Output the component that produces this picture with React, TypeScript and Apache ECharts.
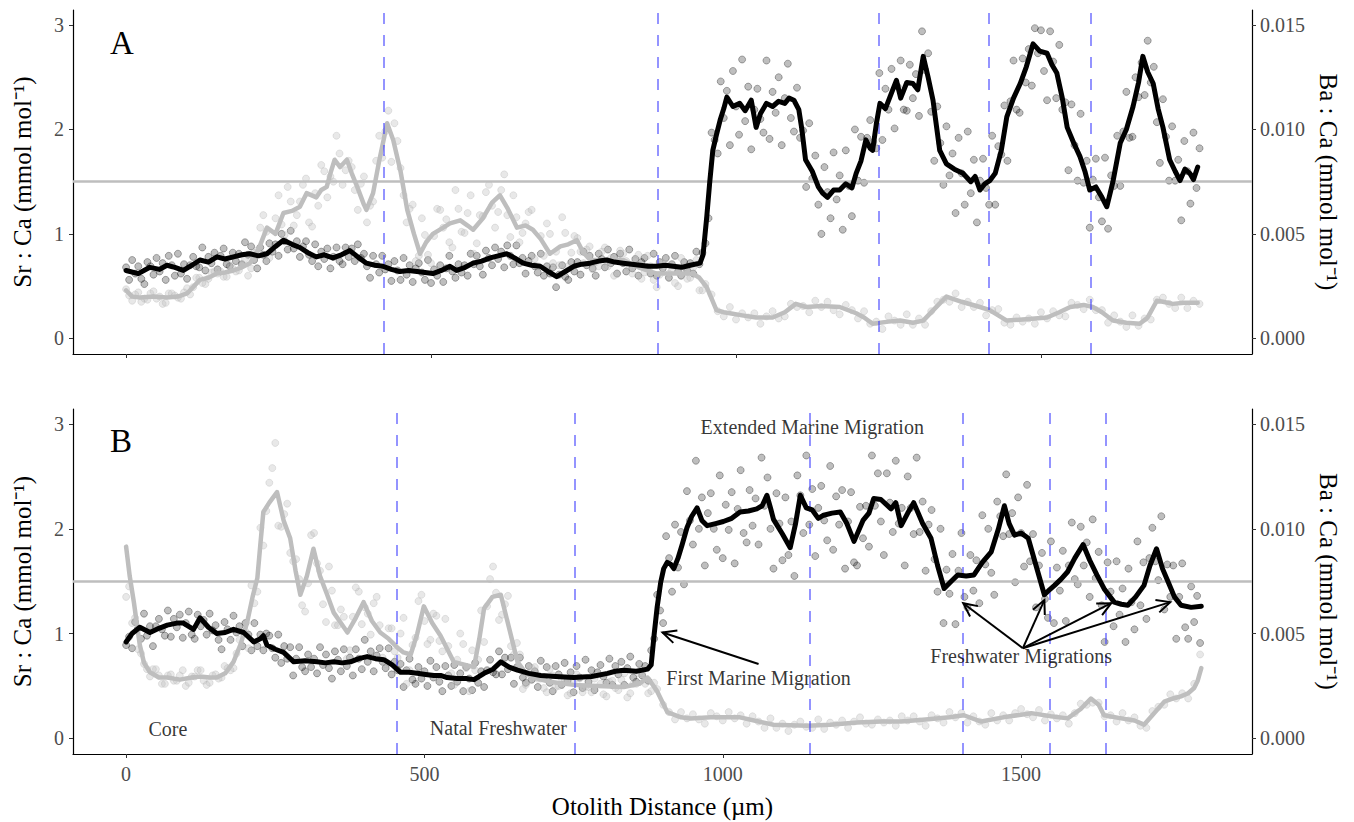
import React, { useEffect, useRef } from "react";
import * as echarts from "echarts";

// ---------- data ----------
const SR_STEP = 5;  // µm between plotted Sr:Ca measurements
const BA_STEP = 10; // µm between plotted Ba:Ca measurements
const BA_MID_OFFSET = 5; // second Ba:Ca run starts 5 µm in (freshwater part only)

// Panel A: smoothed Sr:Ca (mmol/mol)
const A_SR_SMOOTH: number[][] = [[0,0.65],[20,0.62],[39,0.68],[55,0.66],[67,0.70],[80,0.68],[94,0.65],[108,0.70],[121,0.75],[135,0.73],[149,0.78],[162,0.76],[176,0.78],[190,0.80],[203,0.81],[217,0.79],[231,0.81],[245,0.88],[258,0.94],[272,0.90],[285,0.87],[298,0.82],[312,0.78],[325,0.80],[339,0.77],[353,0.80],[367,0.84],[380,0.78],[394,0.72],[408,0.70],[421,0.69],[435,0.66],[449,0.64],[463,0.65],[477,0.64],[490,0.63],[503,0.62],[517,0.65],[531,0.69],[542,0.65],[556,0.68],[569,0.72],[583,0.74],[597,0.77],[610,0.79],[624,0.81],[637,0.77],[651,0.72],[665,0.70],[679,0.69],[692,0.64],[706,0.59],[720,0.64],[734,0.69],[747,0.71],[761,0.72],[775,0.74],[788,0.75],[801,0.73],[815,0.72],[829,0.71],[843,0.70],[856,0.69],[870,0.69],[884,0.70],[897,0.69],[911,0.68],[925,0.70],[941,0.72],[946,0.80],[952,1.16],[957,1.50],[962,1.80],[968,1.95],[974,2.09],[980,2.20],[985,2.31],[995,2.22],[1006,2.25],[1015,2.18],[1025,2.28],[1033,2.02],[1040,2.15],[1050,2.25],[1060,2.22],[1070,2.27],[1080,2.25],[1087,2.30],[1095,2.28],[1103,2.19],[1108,2.00],[1114,1.71],[1125,1.60],[1135,1.45],[1142,1.39],[1150,1.35],[1160,1.42],[1170,1.42],[1180,1.48],[1190,1.44],[1197,1.58],[1205,1.70],[1213,1.90],[1220,1.82],[1224,1.80],[1230,2.05],[1236,2.25],[1245,2.20],[1255,2.35],[1263,2.47],[1270,2.30],[1280,2.45],[1290,2.44],[1298,2.38],[1307,2.70],[1315,2.50],[1323,2.28],[1334,1.80],[1345,1.67],[1358,1.62],[1372,1.58],[1385,1.50],[1392,1.55],[1400,1.42],[1408,1.48],[1416,1.51],[1425,1.58],[1435,1.80],[1444,2.12],[1455,2.30],[1466,2.44],[1476,2.60],[1487,2.82],[1498,2.75],[1510,2.73],[1518,2.62],[1526,2.54],[1535,2.30],[1543,2.02],[1553,1.88],[1564,1.74],[1572,1.60],[1580,1.42],[1590,1.45],[1600,1.35],[1608,1.26],[1618,1.50],[1630,1.87],[1640,2.00],[1651,2.22],[1660,2.45],[1667,2.70],[1675,2.55],[1684,2.44],[1692,2.20],[1700,2.02],[1711,1.71],[1720,1.60],[1728,1.51],[1736,1.62],[1744,1.58],[1750,1.52],[1757,1.64]];

// Panel A: smoothed Ba:Ca, expressed on the Sr:Ca scale (Ba:Ca x 200)
const A_BA_SMOOTH: number[][] = [[0,0.46],[10,0.40],[23,0.39],[45,0.40],[67,0.39],[85,0.40],[100,0.43],[121,0.56],[135,0.58],[149,0.62],[162,0.63],[176,0.65],[190,0.68],[203,0.72],[217,0.85],[231,1.06],[245,1.00],[258,1.20],[272,1.22],[285,1.26],[296,1.39],[312,1.35],[320,1.42],[329,1.45],[335,1.58],[342,1.71],[351,1.64],[362,1.71],[370,1.58],[379,1.45],[390,1.28],[394,1.23],[405,1.39],[415,1.70],[428,2.06],[438,1.90],[450,1.60],[461,1.23],[472,1.00],[482,0.81],[492,0.92],[503,1.00],[520,1.06],[531,1.10],[548,1.13],[560,1.08],[569,1.04],[585,1.15],[600,1.30],[613,1.37],[625,1.25],[641,1.06],[655,1.08],[667,1.04],[680,0.95],[695,0.81],[712,0.88],[725,0.90],[739,0.94],[750,0.82],[761,0.75],[790,0.75],[815,0.75],[840,0.68],[870,0.62],[900,0.62],[929,0.62],[940,0.58],[952,0.49],[960,0.38],[968,0.27],[980,0.25],[990,0.24],[1010,0.22],[1033,0.20],[1060,0.20],[1080,0.25],[1098,0.33],[1115,0.30],[1140,0.31],[1170,0.30],[1197,0.24],[1210,0.20],[1224,0.14],[1250,0.16],[1269,0.17],[1290,0.15],[1307,0.17],[1325,0.28],[1345,0.40],[1370,0.35],[1400,0.30],[1416,0.27],[1444,0.17],[1470,0.18],[1510,0.20],[1530,0.25],[1548,0.30],[1570,0.32],[1585,0.30],[1600,0.25],[1618,0.17],[1640,0.15],[1662,0.14],[1675,0.20],[1690,0.36],[1700,0.35],[1716,0.33],[1735,0.34],[1757,0.34]];

// Panel A: raw Sr:Ca measurements, one every SR_STEP µm from 0
const A_SR_POINTS: number[] = [
0.68,0.56,0.75,0.62,0.69,0.57,0.52,0.73,0.69,0.61,0.77,0.64,0.72,0.56,0.79,0.70,0.60,0.81,0.62,0.71,
0.57,0.70,0.78,0.69,0.68,0.87,0.65,0.78,0.72,0.82,0.66,0.79,0.86,0.71,0.69,0.82,0.74,0.81,0.71,0.92,
0.80,0.88,0.75,0.67,0.87,0.80,0.74,0.91,0.83,0.90,0.79,1.00,0.93,0.85,1.03,0.86,0.93,0.78,0.88,0.93,
0.80,0.74,0.90,0.69,0.83,0.76,0.86,0.67,0.78,0.87,0.74,0.71,0.87,0.78,0.86,0.74,0.90,0.77,0.81,0.69,
0.58,0.79,0.71,0.63,0.79,0.66,0.71,0.55,0.74,0.65,0.56,0.77,0.61,0.70,0.54,0.67,0.72,0.63,0.56,0.75,
0.53,0.66,0.60,0.70,0.54,0.67,0.79,0.64,0.58,0.71,0.63,0.70,0.60,0.81,0.71,0.79,0.69,0.61,0.84,0.77,
0.70,0.87,0.76,0.83,0.68,0.89,0.79,0.71,0.89,0.72,0.77,0.62,0.74,0.79,0.69,0.63,0.81,0.60,0.69,0.62,
0.68,0.49,0.61,0.70,0.59,0.56,0.73,0.64,0.73,0.61,0.83,0.70,0.79,0.67,0.60,0.81,0.76,0.68,0.85,0.72,
0.78,0.62,0.81,0.72,0.64,0.85,0.67,0.76,0.60,0.73,0.77,0.68,0.62,0.81,0.60,0.73,0.67,0.77,0.58,0.71,
0.79,0.64,0.60,0.73,0.65,0.72,0.62,0.83,0.71,0.82,
0.91,1.15,1.97,1.90,1.77,2.46,2.11,2.37,1.85,2.56,2.22,1.95,2.67,2.08,2.41,1.81,2.19,2.39,2.10,1.97,
2.66,1.91,2.36,2.16,2.50,1.85,2.30,2.63,2.11,1.98,2.40,1.92,1.99,1.45,2.06,1.53,1.75,1.28,1.00,1.64,
1.40,1.15,1.78,1.33,1.56,1.04,1.80,1.46,1.17,2.00,1.51,1.93,1.49,1.92,2.09,1.88,1.82,2.54,1.90,2.39,
2.19,2.58,2.01,2.41,2.66,2.19,2.18,2.62,2.30,2.53,2.13,2.94,2.57,2.73,2.17,1.70,2.22,1.87,1.47,2.03,
1.56,1.77,1.20,1.92,1.58,1.28,1.98,1.39,1.71,1.11,1.51,1.72,1.44,1.28,1.94,1.28,1.84,1.76,2.23,1.70,
2.27,2.66,2.19,2.16,2.68,2.45,2.77,2.42,2.97,2.73,2.95,2.56,2.28,2.94,2.65,2.30,2.81,2.19,2.26,1.61,
2.24,1.85,1.51,2.15,1.49,1.70,1.06,1.52,1.72,1.35,1.12,1.73,1.05,1.56,1.46,1.94,1.46,1.98,2.36,1.92,
1.93,2.50,2.31,2.64,2.33,2.85,2.45,2.60,2.07,1.68,2.29,1.93,1.51,2.03,1.51,1.71,1.13,1.89,1.60,1.29,
1.97,1.44,1.82];

// Panel A: raw Ba:Ca measurements (x 200), one every BA_STEP µm from 0
const A_BA_POINTS: number[] = [
0.47,0.36,0.44,0.38,0.43,0.38,0.33,0.43,0.41,0.38,0.48,0.49,0.58,0.52,0.63,0.62,0.59,0.70,0.64,0.70,
0.60,0.82,1.06,1.02,0.87,1.37,0.99,1.31,1.18,1.47,1.11,1.39,1.66,1.35,1.50,1.77,1.61,1.64,1.23,1.55,
1.27,1.70,1.73,2.18,2.06,1.63,1.11,1.28,0.79,0.99,0.72,1.24,1.06,0.92,1.42,1.02,1.20,0.81,1.18,1.40,
1.27,1.21,1.57,0.97,1.16,1.01,1.21,0.76,0.98,1.10,0.72,0.70,1.01,0.82,0.96,0.72,0.88,0.73,0.83,0.69,
0.60,0.84,0.74,0.62,0.80,0.63,0.69,0.49,0.72,0.62,0.53,0.77,0.57,0.68,0.46,
0.52,0.42,0.26,0.21,0.30,0.18,0.24,0.20,0.24,0.14,0.21,0.26,0.19,0.21,0.33,0.30,0.31,0.25,0.36,0.30,
0.35,0.27,0.23,0.32,0.27,0.19,0.26,0.14,0.16,0.09,0.21,0.17,0.13,0.23,0.13,0.19,0.13,0.26,0.35,0.37,
0.35,0.43,0.30,0.35,0.30,0.34,0.22,0.27,0.28,0.15,0.13,0.20,0.16,0.19,0.14,0.25,0.19,0.26,0.22,0.21,
0.34,0.32,0.28,0.37,0.27,0.27,0.15,0.22,0.16,0.11,0.22,0.12,0.19,0.18,0.37,0.39,0.33,0.29,0.39,0.29,
0.36,0.33];

// Panel A: Ba:Ca (x 200), second run at BA_MID_OFFSET + BA_STEP * i (freshwater part)
const A_BA_POINTS_MID: number[] = [
0.41,0.42,0.35,0.37,0.45,0.40,0.34,0.43,0.39,0.44,0.42,0.58,0.53,0.57,0.64,0.64,0.59,0.67,0.65,0.76,
0.67,0.84,1.18,0.77,1.15,1.09,1.45,1.08,1.31,1.53,1.07,1.27,1.60,1.55,1.94,1.47,1.70,1.42,1.48,1.11,
1.31,1.94,1.98,1.69,1.89,1.37,1.24,0.74,1.15,0.80,0.98,1.23,1.14,0.87,1.24,1.01,1.37,0.91,1.17,1.47,
1.06,1.42,1.18,1.37,0.92,1.10,1.23,0.69,0.79,1.00,0.83,1.16,0.69,0.98,0.83,0.85,0.66,0.69,0.87,0.77,
0.62,0.81,0.68,0.74,0.57,0.79,0.56,0.61,0.71,0.65,0.50,0.68,0.58,0.75,0.46];

// Panel B: smoothed Sr:Ca
const B_SR_SMOOTH: number[][] = [[0,0.92],[10,1.00],[23,1.06],[40,1.01],[55,1.05],[69,1.08],[85,1.10],[96,1.10],[113,1.04],[124,1.15],[138,1.06],[152,1.00],[166,1.01],[180,1.04],[197,1.01],[214,0.92],[225,0.95],[230,0.98],[236,0.89],[250,0.85],[264,0.82],[281,0.73],[300,0.74],[320,0.73],[334,0.72],[348,0.73],[362,0.72],[376,0.73],[390,0.76],[404,0.78],[418,0.76],[432,0.75],[446,0.70],[460,0.63],[474,0.63],[488,0.62],[502,0.61],[516,0.60],[527,0.60],[538,0.58],[555,0.57],[570,0.57],[583,0.56],[600,0.62],[615,0.66],[628,0.73],[642,0.68],[656,0.65],[675,0.62],[695,0.60],[720,0.59],[750,0.58],[780,0.59],[807,0.62],[820,0.64],[834,0.65],[855,0.64],[874,0.66],[880,0.70],[885,0.99],[890,1.25],[896,1.49],[901,1.62],[907,1.68],[913,1.66],[918,1.62],[925,1.72],[932,1.85],[940,2.01],[948,2.12],[957,2.20],[965,2.08],[974,2.03],[988,2.05],[1001,2.07],[1015,2.10],[1029,2.16],[1043,2.17],[1057,2.19],[1066,2.22],[1074,2.32],[1080,2.20],[1085,2.09],[1100,1.95],[1113,1.82],[1122,2.05],[1130,2.32],[1140,2.20],[1150,2.18],[1160,2.10],[1169,2.13],[1183,2.15],[1197,2.16],[1208,2.05],[1220,1.88],[1235,2.08],[1245,2.15],[1253,2.29],[1265,2.28],[1282,2.19],[1290,2.25],[1299,2.03],[1310,2.15],[1320,2.25],[1335,2.05],[1349,1.91],[1360,1.65],[1371,1.43],[1383,1.50],[1394,1.56],[1408,1.55],[1421,1.56],[1435,1.68],[1450,1.78],[1462,2.00],[1472,2.22],[1480,2.05],[1489,1.94],[1500,1.96],[1512,1.91],[1525,1.65],[1539,1.37],[1548,1.42],[1556,1.46],[1567,1.52],[1578,1.59],[1590,1.72],[1604,1.85],[1615,1.70],[1627,1.56],[1640,1.42],[1656,1.30],[1668,1.28],[1679,1.27],[1692,1.35],[1706,1.46],[1716,1.65],[1727,1.81],[1737,1.62],[1746,1.50],[1757,1.35],[1768,1.27],[1785,1.25],[1802,1.26]];

// Panel B: smoothed Ba:Ca (x 200)
const B_BA_SMOOTH: number[][] = [[0,1.83],[6,1.55],[13,1.30],[23,0.89],[30,0.72],[40,0.63],[55,0.58],[69,0.58],[90,0.56],[110,0.58],[124,0.59],[140,0.58],[152,0.58],[166,0.62],[180,0.73],[192,0.90],[203,1.11],[212,1.35],[220,1.53],[225,1.85],[230,2.16],[240,2.25],[253,2.35],[264,2.08],[275,1.91],[284,1.60],[292,1.37],[303,1.55],[314,1.81],[325,1.55],[337,1.37],[348,1.20],[360,1.10],[371,1.01],[385,1.15],[398,1.30],[412,1.12],[426,1.01],[440,0.95],[454,0.87],[465,0.82],[477,0.80],[488,1.00],[499,1.26],[513,1.10],[527,0.98],[549,0.73],[583,0.68],[592,0.95],[600,1.24],[614,1.35],[628,1.37],[642,1.05],[656,0.73],[670,0.62],[683,0.58],[710,0.54],[750,0.51],[790,0.50],[834,0.49],[860,0.52],[874,0.58],[890,0.45],[907,0.25],[930,0.20],[946,0.19],[980,0.20],[1029,0.20],[1060,0.16],[1085,0.13],[1142,0.12],[1180,0.13],[1225,0.15],[1265,0.16],[1299,0.16],[1340,0.18],[1380,0.20],[1404,0.22],[1433,0.16],[1470,0.20],[1517,0.24],[1550,0.21],[1578,0.19],[1600,0.28],[1617,0.38],[1630,0.32],[1639,0.22],[1668,0.19],[1690,0.17],[1706,0.13],[1720,0.22],[1740,0.35],[1755,0.38],[1768,0.40],[1780,0.43],[1790,0.48],[1796,0.55],[1802,0.67]];

// Panel B: raw Sr:Ca measurements, one every SR_STEP µm from 0
const B_SR_POINTS: number[] = [
0.89,0.97,0.86,1.11,1.05,0.95,1.19,0.98,1.07,0.88,1.07,1.14,1.04,0.98,1.22,0.97,1.14,1.06,1.18,0.96,
1.10,1.21,0.99,0.95,1.18,1.07,1.13,0.99,1.19,1.03,1.08,0.94,0.85,1.11,1.04,0.94,1.17,1.01,1.07,0.88,
1.10,0.99,0.84,1.10,0.88,0.99,0.84,1.00,0.98,0.86,0.77,0.99,0.72,0.88,0.76,0.87,0.60,0.76,0.87,0.68,
0.64,0.80,0.68,0.76,0.62,0.87,0.70,0.80,0.67,0.57,0.83,0.75,0.64,0.85,0.69,0.77,0.60,0.85,0.76,0.66,
0.94,0.73,0.83,0.64,0.79,0.86,0.73,0.67,0.86,0.61,0.73,0.65,0.71,0.49,0.65,0.76,0.56,0.52,0.68,0.57,
0.64,0.50,0.74,0.58,0.68,0.54,0.45,0.69,0.60,0.50,0.70,0.54,0.62,0.45,0.68,0.57,0.46,0.72,0.53,0.64,
0.49,0.65,0.75,0.63,0.61,0.83,0.61,0.77,0.66,0.77,0.52,0.68,0.77,0.58,0.53,0.69,0.56,0.64,0.49,0.74,
0.58,0.68,0.53,0.45,0.69,0.61,0.51,0.72,0.55,0.63,0.44,0.69,0.58,0.48,0.75,0.54,0.65,0.46,0.63,0.70,
0.59,0.53,0.76,0.51,0.69,0.61,0.73,0.51,0.67,0.78,0.58,0.54,0.71,0.60,0.69,0.55,0.84,0.95,
1.37,1.22,1.10,1.93,1.72,1.40,2.04,1.63,1.97,1.47,2.36,2.08,1.85,2.65,2.00,2.30,1.65,2.15,2.34,2.00,
1.80,2.51,1.72,2.23,1.99,2.35,1.67,2.19,2.56,1.96,1.87,2.37,2.03,2.29,1.85,2.68,2.22,2.49,2.00,1.62,
2.34,2.05,1.70,2.30,1.75,2.07,1.55,2.51,2.32,1.96,2.70,2.04,2.38,1.74,2.20,2.41,2.08,1.89,2.60,1.80,
2.31,2.04,2.37,1.62,2.07,2.35,1.68,1.65,2.21,1.91,2.22,1.83,2.70,2.22,2.53,2.07,1.75,2.53,2.25,1.97,
2.65,2.05,2.20,1.65,2.50,2.20,1.95,2.68,1.97,2.26,1.60,2.04,2.18,1.71,1.40,2.00,1.10,1.61,1.38,1.76,
1.09,1.60,1.96,1.35,1.25,1.75,1.41,1.70,1.29,2.13,1.66,2.00,1.58,1.37,2.26,2.12,1.93,2.52,1.95,2.15,
1.49,2.30,1.96,1.64,2.42,1.69,1.95,1.25,1.65,1.77,1.33,1.15,1.88,1.10,1.63,1.41,1.79,1.12,1.65,2.06,
1.52,1.47,2.02,1.65,1.87,1.35,2.09,1.53,1.78,1.27,0.92,1.68,1.40,1.07,1.69,1.18,1.43,0.92,1.62,1.30,
1.04,1.88,1.27,1.68,1.14,1.72,2.01,1.69,1.51,2.12,1.23,1.66,1.35,1.65,0.95,1.35,1.67,1.06,0.95,1.45,
1.11,1.36,0.91];

// Panel B: raw Ba:Ca measurements (x 200), one every BA_STEP µm from 0
const B_BA_POINTS: number[] = [
1.35,1.10,0.85,0.71,0.59,0.66,0.52,0.60,0.55,0.60,0.50,0.59,0.65,0.55,0.53,0.61,0.58,0.67,0.67,0.94,
1.02,1.46,1.40,1.84,2.44,2.82,2.02,2.24,1.69,1.52,1.21,1.94,1.67,1.28,1.64,1.08,1.23,0.76,1.16,1.40,
1.25,0.99,1.35,0.77,1.05,0.83,1.00,0.52,0.89,1.31,1.12,0.94,1.17,0.83,0.88,0.51,1.00,0.67,0.84,0.75,
0.92,1.52,1.39,1.18,1.36,0.80,0.80,0.51,0.67,0.57,0.48,0.66,0.49,0.57,0.41,0.53,0.57,0.49,0.44,0.61,
0.42,0.54,0.48,0.56,0.39,0.52,0.62,0.52,0.45,0.47,0.32,0.25,0.18,0.25,0.19,0.23,0.18,0.14,0.24,0.21,
0.17,0.25,0.19,0.22,0.14,0.21,0.16,0.10,0.19,0.10,0.14,0.07,0.13,0.16,0.11,0.10,0.18,0.09,0.15,0.13,
0.17,0.10,0.16,0.20,0.14,0.13,0.18,0.15,0.17,0.12,0.21,0.17,0.21,0.16,0.12,0.22,0.19,0.15,0.25,0.20,
0.24,0.15,0.21,0.16,0.13,0.24,0.17,0.22,0.17,0.24,0.28,0.23,0.20,0.27,0.17,0.23,0.19,0.22,0.14,0.24,
0.33,0.32,0.34,0.34,0.21,0.22,0.16,0.24,0.17,0.20,0.12,0.10,0.26,0.30,0.32,0.42,0.38,0.43,0.38,0.52,
0.80];

// Panel B: Ba:Ca (x 200), second run at BA_MID_OFFSET + BA_STEP * i (freshwater part)
const B_BA_POINTS_MID: number[] = [
1.45,1.15,0.81,0.66,0.66,0.60,0.52,0.61,0.55,0.65,0.53,0.59,0.65,0.51,0.60,0.57,0.69,0.65,0.81,1.01,
0.86,1.29,2.01,2.17,2.58,2.03,2.14,1.77,1.71,1.27,1.48,1.96,1.60,1.11,1.41,1.08,1.16,0.84,1.44,1.09,
1.19,1.29,1.08,0.71,1.05,0.77,1.15,0.65,0.96,1.37,0.90,1.19,0.93,1.14,0.62,0.75,0.90,0.45,0.65,1.22,
1.26,1.64,1.13,1.28,0.88,0.91,0.47,0.55,0.68,0.57,0.44,0.60,0.50,0.55,0.43,0.61,0.44,0.49,0.57,0.52,
0.40,0.55,0.46,0.62,0.43,0.52,0.62,0.43,0.53];

// Transition boundaries (µm) and threshold
const A_BOUNDARIES: number[] = [423, 871, 1234, 1414, 1582];
const B_BOUNDARIES: number[] = [453, 752, 1145, 1403, 1548, 1642];
const SR_THRESHOLD = 1.5;
const BA_SCALE = 200; // Sr:Ca axis value / BA_SCALE = Ba:Ca axis value

// Axis ticks
const X_TICKS: number[] = [0, 500, 1000, 1500];
const Y_TICKS: number[] = [0, 1, 2, 3];

// Annotations in panel B: [x, y, text]
const B_NOTES: (number | string)[][] = [
  [1150, 2.97, "Extended Marine Migration"],
  [1060, 0.575, "First Marine Migration"],
  [1500, 0.785, "Freshwater Migrations"],
  [70, 0.09, "Core"],
  [624, 0.1, "Natal Freshwater"],
];
// Arrows in panel B: [xFrom, yFrom, xTo, yTo]
const B_ARROWS: number[][] = [
  [1060, 0.71, 899, 1.01],
  [1503, 0.86, 1403, 1.29],
  [1503, 0.86, 1539, 1.32],
  [1503, 0.86, 1651, 1.29],
  [1503, 0.86, 1750, 1.3],
];

// ---------- styles ----------
const FONT = "'Liberation Serif', 'Times New Roman', serif";
const TICK_GRAY = "#4d4d4d";
const DASH_BLUE = "rgba(60,60,255,0.55)";
const LINE_GRAY = "#bebebe";

const toPoints = (vals: number[], step: number, offset = 0) =>
  vals.map((v, i) => [offset + i * step, v]);

function App() {
  const ref = useRef<HTMLDivElement>(null);

  useEffect(() => {
    if (!ref.current) return;
    const chart = echarts.init(ref.current, undefined, { renderer: "svg" });

    const xAxisBase = (gridIndex: number, min: number, max: number, showLabels: boolean): any => ({
      type: "value",
      gridIndex,
      min,
      max,
      axisLine: { show: true, onZero: false, lineStyle: { color: "#000", width: 1.2 } },
      axisTick: { show: true, length: 4, customValues: X_TICKS, lineStyle: { color: "#333", width: 1 } },
      axisLabel: {
        show: showLabels,
        customValues: X_TICKS,
        color: TICK_GRAY,
        fontSize: 20,
        fontFamily: FONT,
        margin: 10,
        formatter: (v: number) => String(v),
      },
      splitLine: { show: false },
    });

    const yLeft = (gridIndex: number): any => ({
      type: "value",
      gridIndex,
      position: "left",
      min: -0.15,
      max: 3.144,
      axisLine: { show: true, onZero: false, lineStyle: { color: "#000", width: 1.2 } },
      axisTick: { show: true, length: 4, customValues: Y_TICKS, lineStyle: { color: "#333" } },
      axisLabel: {
        customValues: Y_TICKS,
        color: TICK_GRAY,
        fontSize: 20,
        fontFamily: FONT,
        margin: 9,
      },
      splitLine: { show: false },
      name: "Sr : Ca (mmol mol⁻¹)",
      nameLocation: "middle",
      nameRotate: 90,
      nameGap: 38,
      nameTextStyle: { color: "#000", fontSize: 25, fontFamily: FONT },
    });

    const yRight = (gridIndex: number): any => ({
      type: "value",
      gridIndex,
      position: "right",
      min: -0.15,
      max: 3.144,
      axisLine: { show: true, onZero: false, lineStyle: { color: "#000", width: 1.2 } },
      axisTick: { show: true, length: 4, customValues: Y_TICKS, lineStyle: { color: "#333" } },
      axisLabel: {
        customValues: Y_TICKS,
        color: TICK_GRAY,
        fontSize: 20,
        fontFamily: FONT,
        margin: 8,
        formatter: (v: number) => (v / BA_SCALE).toFixed(3),
      },
      splitLine: { show: false },
      name: "Ba : Ca (mmol mol⁻¹)",
      nameLocation: "middle",
      nameRotate: -90,
      nameGap: 58,
      nameTextStyle: { color: "#000", fontSize: 25, fontFamily: FONT },
    });

    const refLines = (xi: number, yi: number, bounds: number[]): any => ({
      type: "line",
      xAxisIndex: xi,
      yAxisIndex: yi,
      data: [],
      silent: true,
      z: 1,
      markLine: {
        silent: true,
        symbol: "none",
        animation: false,
        label: { show: false },
        data: [
          { yAxis: SR_THRESHOLD, lineStyle: { color: LINE_GRAY, width: 2.5, type: "solid" } },
          ...bounds.map((b) => ({
            xAxis: b,
            lineStyle: { color: DASH_BLUE, width: 2, type: [11, 11] },
          })),
        ],
      },
    });

    const srPoints = (xi: number, yi: number, vals: number[]): any => ({
      type: "scatter",
      xAxisIndex: xi,
      yAxisIndex: yi,
      data: toPoints(vals, SR_STEP),
      symbolSize: 7,
      silent: true,
      z: 2,
      itemStyle: { color: "rgba(0,0,0,0.32)", borderColor: "rgba(0,0,0,0.48)", borderWidth: 0.8 },
    });
    const baPoints = (xi: number, yi: number, data: number[][]): any => ({
      type: "scatter",
      xAxisIndex: xi,
      yAxisIndex: yi,
      data,
      symbolSize: 7,
      silent: true,
      z: 3,
      itemStyle: { color: "rgba(190,190,190,0.45)", borderColor: "rgba(170,170,170,0.45)", borderWidth: 0.8 },
    });
    const smooth = (xi: number, yi: number, data: number[][], color: string, width: number, z: number): any => ({
      type: "line",
      xAxisIndex: xi,
      yAxisIndex: yi,
      data,
      showSymbol: false,
      symbol: "none",
      silent: true,
      z,
      lineStyle: { color, width, join: "round", cap: "round" },
    });

    const option: any = {
      animation: false,
      backgroundColor: "#ffffff",
      grid: [
        { left: 73, top: 10, width: 1179, height: 344 },
        { left: 73, top: 409, width: 1179, height: 345 },
      ],
      xAxis: [
        xAxisBase(0, -87, 1846, false),
        {
          ...xAxisBase(1, -89, 1887, true),
          name: "Otolith Distance (µm)",
          nameLocation: "middle",
          nameGap: 40,
          nameTextStyle: { color: "#000", fontSize: 25, fontFamily: FONT },
        },
      ],
      yAxis: [yLeft(0), yRight(0), yLeft(1), yRight(1)],
      graphic: [
        { type: "text", left: 110, top: 26, style: { text: "A", fontSize: 33, fontFamily: FONT, fill: "#000" } },
        { type: "text", left: 110, top: 424, style: { text: "B", fontSize: 33, fontFamily: FONT, fill: "#000" } },
      ],
      series: [
        refLines(0, 0, A_BOUNDARIES),
        srPoints(0, 0, A_SR_POINTS),
        baPoints(0, 0, [
          ...toPoints(A_BA_POINTS, BA_STEP),
          ...toPoints(A_BA_POINTS_MID, BA_STEP, BA_MID_OFFSET),
        ]),
        smooth(0, 0, A_BA_SMOOTH, LINE_GRAY, 4.5, 4),
        smooth(0, 0, A_SR_SMOOTH, "#000", 5, 5),

        refLines(1, 2, B_BOUNDARIES),
        srPoints(1, 2, B_SR_POINTS),
        baPoints(1, 2, [
          ...toPoints(B_BA_POINTS, BA_STEP),
          ...toPoints(B_BA_POINTS_MID, BA_STEP, BA_MID_OFFSET),
        ]),
        smooth(1, 2, B_BA_SMOOTH, LINE_GRAY, 4.5, 4),
        smooth(1, 2, B_SR_SMOOTH, "#000", 5, 5),
        {
          type: "custom",
          xAxisIndex: 1,
          yAxisIndex: 2,
          data: B_ARROWS,
          encode: { x: [0, 2], y: [1, 3] },
          silent: true,
          z: 6,
          renderItem: (_params: any, api: any) => {
            const p1 = api.coord([api.value(0), api.value(1)]);
            const p2 = api.coord([api.value(2), api.value(3)]);
            const ang = Math.atan2(p2[1] - p1[1], p2[0] - p1[0]);
            const L = 15;
            const a = Math.PI / 7;
            const h1 = [p2[0] - L * Math.cos(ang - a), p2[1] - L * Math.sin(ang - a)];
            const h2 = [p2[0] - L * Math.cos(ang + a), p2[1] - L * Math.sin(ang + a)];
            return {
              type: "group",
              children: [
                {
                  type: "line",
                  shape: { x1: p1[0], y1: p1[1], x2: p2[0], y2: p2[1] },
                  style: { stroke: "#000", lineWidth: 2 },
                },
                {
                  type: "polyline",
                  shape: { points: [h1, p2, h2] },
                  style: { stroke: "#000", lineWidth: 2, fill: "none" },
                },
              ],
            };
          },
        },
        {
          type: "scatter",
          xAxisIndex: 1,
          yAxisIndex: 2,
          data: B_NOTES,
          symbolSize: 1,
          silent: true,
          z: 7,
          itemStyle: { color: "rgba(0,0,0,0)" },
          label: {
            show: true,
            position: "inside",
            formatter: (p: any) => p.data[2],
            color: "#000",
            fontSize: 20,
            fontFamily: FONT,
          },
        },
      ],
    };

    chart.setOption(option);
    return () => chart.dispose();
  }, []);

  return (
    <div
      ref={ref}
      style={{ position: "fixed", left: 0, top: 0, width: 1354, height: 822, background: "#fff" }}
    />
  );
}

export default App;
